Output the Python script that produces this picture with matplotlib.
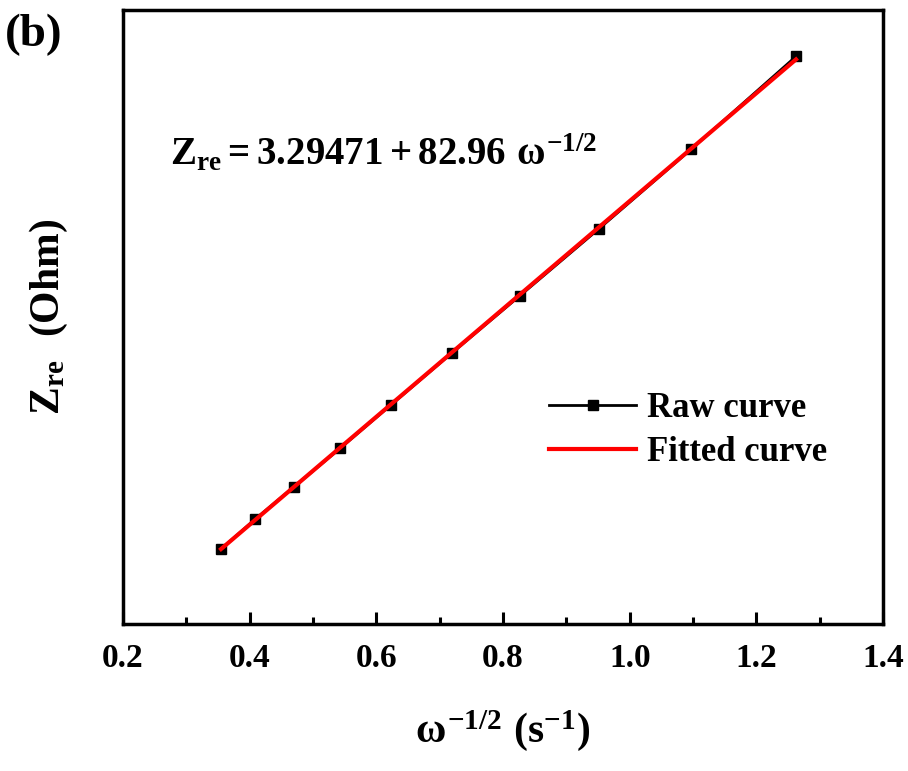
import numpy as np
import matplotlib
matplotlib.use('Agg')
import matplotlib.pyplot as plt

plt.rcParams['font.family'] = ['Liberation Serif', 'DejaVu Serif']
plt.rcParams['font.weight'] = 'bold'
plt.rcParams['mathtext.fontset'] = 'custom'
plt.rcParams['mathtext.rm'] = 'Liberation Serif:bold'
plt.rcParams['mathtext.it'] = 'Liberation Serif:bold'
plt.rcParams['mathtext.bf'] = 'Liberation Serif:bold'

# 数据
x_raw = [0.3547, 0.4084, 0.4700, 0.5426, 0.6232, 0.7195, 0.8268, 0.9516, 1.0968, 1.2626]
y_raw = [32.7, 37.3, 42.3, 48.2, 54.9, 62.9, 71.7, 82.0, 94.2, 108.5]
intercept = 3.29471
slope = 82.96

x_fit = np.array([x_raw[0], x_raw[-1]])
y_fit = intercept + slope * x_fit

fig = plt.figure(figsize=(9.08, 7.71), dpi=100)
ax = fig.add_axes([0.1355, 0.1907, 0.837, 0.796])

ax.plot(x_raw, y_raw, color='black', lw=2, marker='s', ms=7, label='Raw curve')
ax.plot(x_fit, y_fit, color='red', lw=3, label='Fitted curve')

ax.set_xlim(0.2, 1.4)
ax.set_ylim(21.2, 115.6)
ax.set_xticks(np.arange(0.2, 1.41, 0.2))
ax.set_xticks(np.arange(0.3, 1.4, 0.2), minor=True)
ax.set_xticklabels(['%.1f' % v for v in np.arange(0.2, 1.41, 0.2)])
ax.set_yticks([])
ax.tick_params(axis='x', which='major', direction='in', length=9, width=2.2,
               labelsize=24, pad=14)
ax.tick_params(axis='x', which='minor', direction='in', length=5, width=2.2)
for s in ax.spines.values():
    s.set_linewidth(2.5)

ax.set_xlabel(r'$\omega^{-1/2}\ (\mathrm{s}^{-1})$', fontsize=30, labelpad=24)
ax.set_ylabel(r'$\mathrm{Z}_{\mathrm{re}}\ \ (\mathrm{Ohm})$', fontsize=30, labelpad=38)

ax.text(0.062, 0.7475, r'$\mathrm{Z}_{\mathrm{re}}= 3.29471 + 82.96\ \omega^{-1/2}$',
        transform=ax.transAxes, fontsize=28)

leg = ax.legend(loc='center left', bbox_to_anchor=(0.52, 0.315), frameon=False,
                fontsize=25, handlelength=2.5, handletextpad=0.3, labelspacing=0.3)

fig.text(0.005, 0.94, '(b)', fontsize=34, fontweight='bold')

plt.savefig('out.png', dpi=100)
